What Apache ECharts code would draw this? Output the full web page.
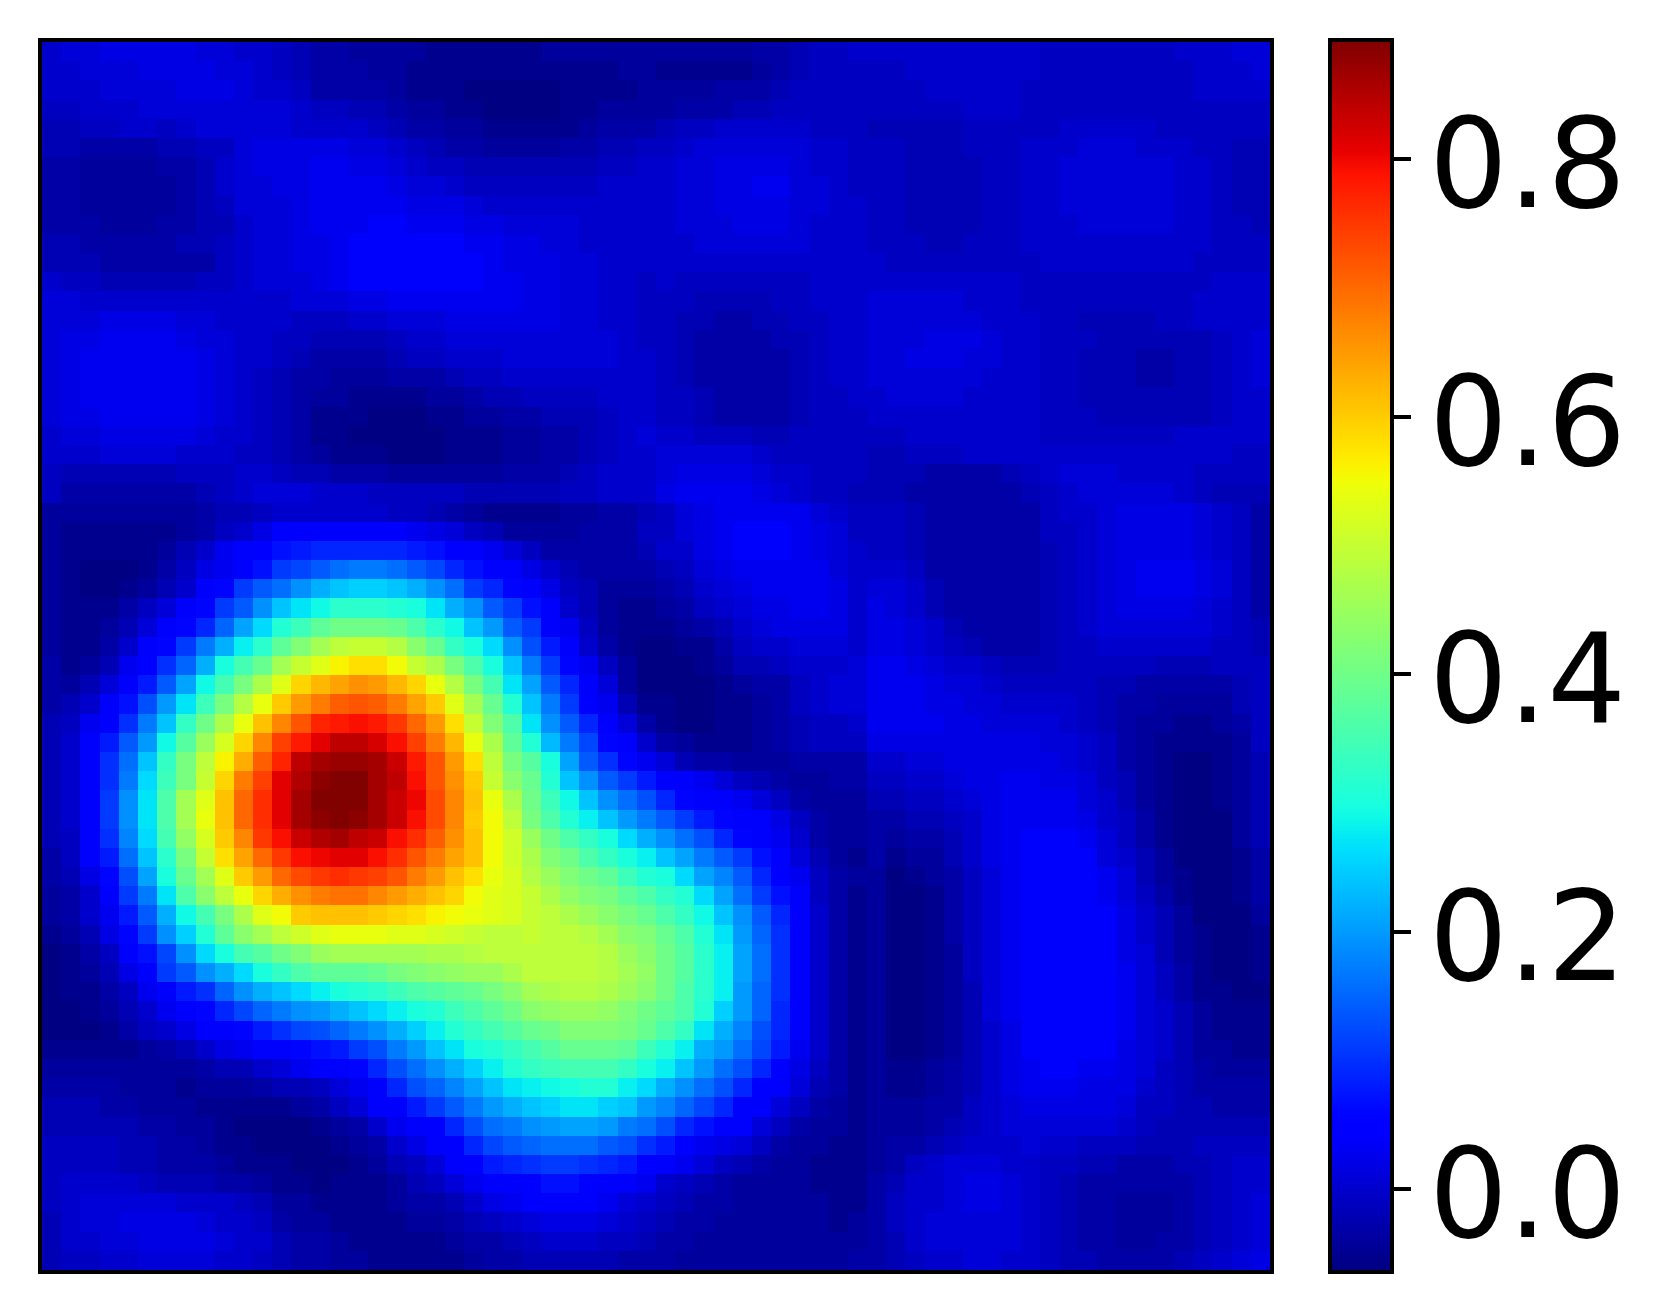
<!DOCTYPE html>
<html>
<head>
<meta charset="utf-8">
<style>html,body{margin:0;padding:0;background:#fff}#c{width:1665px;height:1312px}</style>
<script src="https://cdn.jsdelivr.net/npm/echarts@6/dist/echarts.min.js"></script>
</head>
<body>
<div id="c"></div>
<script>
// Field values in hundredths, row 0 = top of the picture, column 0 = left.
const fieldTop = [
[0,1,1,2,2,2,2,2,1,1,0,0,-1,-2,-3,-3,-4,-4,-4,-4,-5,-5,-5,-5,-5,-5,-4,-4,-4,-4,-4,-4, -4,-4,-4,-4,-4,-3,-3,-2,-1,-1,0,0,0,0,0,0,0,0,0,0,-1,-1,-1,-1,-1,-1,-1,0,0,0,1,1],
[0,0,1,1,1,2,2,2,2,1,1,0,-1,-2,-3,-3,-3,-4,-4,-5,-5,-5,-5,-5,-5,-5,-5,-5,-5,-5,-4,-4, -5,-5,-5,-5,-5,-4,-3,-2,-1,-1,-1,-1,-1,0,0,0,0,0,0,0,-1,-1,-1,-1,-1,-1,-1,-1,0,0,0,1],
[0,0,0,1,1,1,1,2,2,2,1,0,0,-1,-3,-3,-3,-3,-4,-5,-5,-5,-6,-6,-6,-6,-6,-5,-5,-5,-5,-4, -4,-4,-4,-3,-3,-3,-2,-1,-1,-1,-1,-1,-1,-1,0,0,0,0,0,-1,-1,-1,-1,-1,-1,-1,-1,-1,0,0,0,0],
[-1,-1,0,0,0,1,1,1,1,1,1,1,1,0,-1,-1,-2,-2,-3,-4,-4,-5,-5,-6,-6,-6,-6,-5,-5,-4,-4,-4, -4,-3,-3,-3,-2,-2,-1,-1,-1,-1,-1,-1,-1,-1,-1,-1,0,0,0,-1,-1,-1,-1,-1,-1,-1,-1,-1,-1,-1,-1,-1],
[-2,-2,-1,-1,0,0,-1,0,1,1,1,1,1,0,0,0,0,-1,-2,-3,-3,-4,-4,-5,-5,-5,-5,-5,-4,-3,-3,-3, -2,-1,-1,0,0,0,0,0,-1,-1,-1,-2,-2,-2,-2,-2,-1,-1,-1,-1,-1,0,0,0,0,0,-1,-1,-1,-1,-1,-1],
[-2,-2,-3,-3,-3,-3,-2,-2,-1,-1,1,2,2,2,2,2,1,1,0,-1,-2,-3,-3,-4,-4,-4,-4,-3,-3,-2,-2,-1, -1,0,1,1,1,1,1,1,0,0,-1,-1,-1,-2,-2,-2,-1,-1,-1,0,0,0,1,1,1,0,0,0,-1,-1,-2,-2],
[-3,-3,-4,-4,-4,-4,-3,-3,-2,0,1,2,2,2,3,3,2,2,1,0,-1,-1,-2,-2,-2,-2,-2,-2,-2,-1,-1,0, 0,1,1,2,2,2,2,1,0,0,-1,-1,-1,-2,-2,-2,-2,-1,-1,0,0,1,1,1,1,1,1,0,0,-1,-2,-2],
[-3,-3,-4,-4,-4,-4,-4,-3,-2,0,1,1,2,2,3,3,3,3,2,1,1,0,-1,-1,-1,-1,-1,-1,-1,0,0,0, 0,1,1,2,2,3,3,1,1,0,-1,-1,-1,-2,-2,-2,-2,-1,-1,0,0,1,1,1,1,1,1,0,0,-1,-2,-2],
[-3,-3,-4,-4,-4,-4,-4,-3,-2,-1,1,1,1,2,3,3,3,3,3,2,2,2,1,0,0,0,0,0,0,0,0,0, 0,1,1,2,2,2,2,1,1,0,0,-1,-1,-2,-2,-2,-2,-1,-1,0,0,1,1,1,1,1,1,0,0,-1,-2,-2],
[-3,-3,-3,-4,-4,-4,-3,-3,-2,-2,0,1,1,2,3,3,3,4,4,3,3,3,2,2,1,1,1,1,0,0,0,0, 0,1,1,1,2,2,2,1,0,0,0,-1,-1,-2,-2,-2,-2,-1,-1,0,0,0,1,1,1,1,1,0,0,-1,-1,-2],
[-2,-2,-3,-3,-3,-3,-3,-2,-2,-1,0,1,1,2,2,3,4,4,4,4,4,4,3,3,2,2,1,1,0,0,0,0, 0,0,1,1,1,1,1,1,0,0,0,-1,-1,-1,-2,-2,-1,-1,-1,0,0,0,0,0,0,0,0,0,0,-1,-1,-1],
[-2,-2,-2,-3,-3,-3,-3,-3,-3,-1,0,1,1,2,2,3,4,4,4,4,4,4,4,3,2,2,2,1,1,0,0,0, 0,0,0,0,0,0,0,0,0,0,0,0,-1,-1,-1,-1,-1,-1,-1,-1,0,0,0,0,0,0,0,0,-1,-1,-1,-1],
[0,-1,-1,-2,-2,-2,-2,-2,-1,-1,0,1,1,1,2,3,4,4,4,4,4,4,4,3,3,2,2,1,1,0,0,-1, 0,-1,-1,-1,-1,-1,-1,-1,0,0,0,0,0,0,0,0,0,0,0,-1,-1,-1,-1,-1,-1,-1,-1,-1,-1,0,0,0],
[1,1,0,0,0,0,0,0,0,0,0,0,0,1,1,1,2,2,3,3,3,3,3,3,3,2,2,1,1,0,0,-1, -1,-1,-2,-2,-2,-2,-1,-1,0,0,0,1,1,1,1,1,0,0,0,-1,-1,-1,-1,-1,-1,-1,-1,-1,0,0,0,0],
[1,1,1,2,2,2,2,1,1,0,0,0,0,-1,-1,-1,0,0,1,1,1,2,2,2,2,2,2,1,1,0,0,-1, -1,-2,-2,-3,-3,-2,-2,-1,-1,0,0,1,1,1,1,1,1,0,0,0,-1,-1,-2,-2,-2,-2,-1,-1,0,0,0,0],
[1,2,2,3,3,3,3,2,1,1,0,0,-1,-1,-2,-2,-2,-2,-1,0,0,1,1,1,1,1,1,1,1,1,0,-1, -1,-2,-3,-3,-3,-3,-2,-2,-1,0,0,1,1,1,2,2,2,1,0,0,-1,-1,-1,-2,-2,-2,-2,-2,-2,-1,0,1],
[1,2,3,3,3,3,3,3,2,1,0,0,-1,-2,-3,-3,-3,-3,-2,-1,-1,0,0,0,1,1,1,1,1,1,0,0, -1,-2,-3,-3,-3,-3,-3,-2,-1,0,0,1,1,2,2,2,1,1,0,0,-1,-1,-2,-2,-2,-3,-3,-2,-2,-1,0,1],
[1,2,3,3,3,3,3,3,2,1,0,-1,-2,-3,-3,-4,-4,-4,-3,-3,-3,-2,-1,-1,0,0,0,0,0,0,0,0, -1,-2,-3,-3,-3,-3,-3,-2,-1,0,0,1,1,1,1,1,1,0,0,0,-1,-1,-2,-2,-2,-3,-3,-2,-2,-1,0,1],
[1,2,3,3,3,3,3,3,2,1,0,-1,-2,-3,-4,-4,-5,-5,-5,-5,-4,-4,-3,-2,-2,-1,-1,-1,-1,0,0,0, -1,-1,-2,-3,-3,-3,-3,-2,-1,-1,0,0,1,1,1,1,0,0,0,0,-1,-1,-2,-2,-2,-2,-2,-2,-2,-1,0,0],
[1,2,2,3,3,3,3,3,2,1,0,-1,-2,-3,-5,-5,-5,-6,-6,-6,-5,-5,-4,-4,-3,-3,-2,-2,-2,-1,0,0, -1,-1,-2,-3,-3,-3,-3,-2,-1,-1,-1,0,0,0,0,0,0,0,0,0,-1,-1,-1,-2,-2,-2,-2,-2,-2,-1,0,0],
[0,1,1,2,2,2,2,2,1,0,0,-1,-2,-3,-5,-5,-6,-6,-6,-6,-6,-5,-5,-5,-4,-4,-3,-3,-2,-1,0,1, 0,0,-1,-1,-1,-2,-2,-1,-1,-1,-1,-1,-1,0,0,0,0,0,0,0,-1,-1,-1,-1,-1,-1,-1,0,0,0,0,0],
[0,0,0,1,1,1,1,0,0,0,-1,-1,-2,-3,-4,-5,-5,-5,-6,-6,-6,-5,-5,-5,-4,-4,-3,-3,-2,-1,0,0, 1,1,1,1,1,0,-1,-1,-1,-1,-1,-2,-2,-1,-1,-1,0,0,0,0,0,0,0,0,0,0,0,0,0,0,-1,-1],
[-1,-2,-2,-2,-2,-2,-2,-1,-1,-1,0,0,-1,-2,-2,-3,-3,-3,-4,-4,-4,-4,-4,-4,-3,-3,-3,-2,-1,0,0,0, 1,2,2,2,2,1,0,0,-1,-1,-1,-2,-2,-2,-3,-3,-3,-3,-2,-1,0,1,1,1,0,0,0,0,-1,-1,-1,-1],
[-1,-3,-3,-3,-3,-3,-3,-3,-2,-1,0,1,1,1,0,0,0,-1,-1,-1,-1,-1,-2,-2,-2,-2,-2,-1,-1,0,0,0, 2,3,3,3,3,2,1,0,-1,-1,-2,-2,-2,-3,-3,-3,-3,-3,-3,-2,-1,0,1,1,1,1,1,0,-1,-2,-2,-2]
];
const fieldMiddle = [
[-4, -4,-4,-4,-4,-4,-4,-4,-3,-2,-2,-1,0,0,0,0,0,0,-1,-1,-2,-3,-4,-5,-5, -5,-5,-4,-4,-3,-3,-2,-1,1,2,3,3,3,3,3,1,0,-1, -1,-1,-2,-3,-3,-3,-3,-3,-3,-1,0,0,1,2,2,2,2,1,0,-1,-3],
[-4, -5,-5,-5,-5,-5,-5,-4,-3,-1,0,2,4,4,4,4,4,4,4,3,2,1,-1,-2,-4, -4,-4,-4,-3,-3,-3,-1,-1,1,2,3,4,4,4,3,2,1,-1, -1,-1,-2,-3,-3,-3,-3,-3,-3,-1,-1,0,1,2,2,2,2,1,0,-1,-3],
[-4, -5,-5,-5,-5,-5,-4,-2,0,3,4,5,7,8,9,9,9,9,9,8,7,5,4,3,1, -1,-3,-3,-3,-3,-3,-2,0,0,2,3,4,4,4,3,2,1,0, -1,-1,-2,-3,-3,-3,-3,-3,-3,-2,-1,0,1,2,2,2,2,1,0,-1,-3],
[-4, -5,-6,-6,-6,-5,-3,-1,2,3,4,7,11,12,14,16,17,17,16,14,12,9,7,4,4, 2,0,-2,-3,-3,-3,-3,-2,-1,1,2,3,3,3,3,3,1,0, 0,0,-1,-3,-3,-3,-3,-3,-3,-2,-1,0,1,2,3,3,3,2,1,-1,-3],
[-4, -5,-6,-6,-5,-4,-2,0,4,6,11,14,16,19,22,24,25,25,24,22,19,16,11,9,6, 4,2,-1,-2,-4,-4,-4,-3,-2,0,1,2,3,3,3,3,2,0, 1,1,0,-2,-3,-3,-3,-3,-3,-2,-1,0,1,2,3,3,3,2,1,-1,-3],
[-4, -5,-5,-5,-3,-1,1,4,6,11,14,19,24,27,29,32,32,32,31,30,27,22,19,14,11, 7,4,0,-2,-4,-5,-5,-4,-3,-1,0,1,2,2,3,3,2,0, 2,1,0,-2,-3,-3,-3,-3,-3,-2,-1,0,1,2,2,2,2,1,0,-1,-3],
[-4, -5,-5,-4,-2,1,4,6,9,15,21,26,31,34,38,40,40,40,39,36,32,29,24,20,14, 11,4,3,-1,-4,-5,-5,-5,-4,-3,-2,0,1,2,2,2,2,0, 2,2,1,0,-2,-3,-3,-3,-3,-2,-1,0,1,1,1,1,1,1,0,-1,-2],
[-4, -5,-5,-3,0,4,6,11,17,22,28,32,38,42,46,49,50,50,48,43,39,33,30,26,19, 13,8,4,0,-3,-5,-6,-6,-5,-5,-3,-1,0,0,1,1,1,0, 2,2,1,0,-1,-2,-3,-3,-3,-2,-1,-1,0,0,0,0,0,0,-1,-1,-2],
[-3, -5,-4,-2,3,5,10,15,22,30,35,39,46,50,53,56,58,58,55,50,47,41,36,30,24, 17,11,6,3,-1,-4,-6,-6,-6,-5,-4,-2,-2,-1,0,0,0,1, 3,3,2,1,0,0,-1,-2,-2,-2,-1,-1,-1,-1,-1,-2,-2,-2,-1,-1,-1],
[-3, -4,-2,1,4,8,14,21,29,35,41,47,53,59,62,64,66,65,62,59,54,48,41,35,27, 21,14,9,4,1,-4,-6,-6,-6,-6,-5,-4,-3,-3,-1,0,1,1, 3,3,3,2,1,1,0,-1,-1,-1,-1,-1,-2,-2,-3,-3,-3,-3,-3,-2,-1],
[-3, -2,0,4,7,13,20,27,34,41,48,54,60,65,68,71,72,71,68,64,60,53,46,39,31, 24,17,11,5,3,-2,-5,-5,-6,-6,-5,-5,-4,-3,-1,0,1,1, 3,3,3,2,2,1,1,0,0,0,0,-1,-2,-3,-3,-4,-4,-4,-4,-2,-1],
[-2, -1,3,4,10,17,24,33,40,47,54,61,67,72,77,78,79,78,75,70,65,58,50,42,36, 27,19,14,9,4,1,-3,-5,-6,-6,-5,-5,-4,-3,-2,-1,-1,0, 3,3,3,3,2,2,1,1,1,1,0,-1,-2,-3,-4,-4,-5,-5,-4,-3,-1],
[-2, 0,4,8,14,20,29,37,45,52,59,67,74,78,81,84,84,82,79,74,68,62,54,47,38, 31,23,17,12,6,4,0,-3,-4,-5,-5,-5,-4,-3,-2,-1,-1,-1, 2,2,2,2,2,2,2,2,2,1,1,0,-1,-3,-4,-5,-5,-5,-5,-4,-1],
[-2, 0,4,10,16,24,33,41,49,56,63,71,77,84,86,87,87,86,83,78,72,65,58,49,41, 37,30,21,14,10,6,3,1,-2,-3,-3,-4,-4,-4,-3,-3,-3,-3, 0,0,1,1,2,2,2,2,2,2,1,0,-1,-3,-4,-5,-6,-6,-5,-4,-2],
[-2, 0,4,10,17,26,34,41,50,59,68,74,81,85,88,89,89,86,84,79,72,66,60,50,43, 39,31,24,19,14,11,8,4,4,3,1,-1,-2,-3,-4,-4,-3,-3, -1,-1,0,0,1,2,2,3,3,2,2,1,-1,-2,-4,-5,-6,-6,-5,-4,-2],
[-2, 0,4,11,19,27,36,46,53,61,70,76,81,86,89,89,89,86,83,80,73,67,61,54,47, 40,34,29,24,19,16,13,9,6,4,4,3,1,-1,-3,-4,-4,-4, -2,-2,-1,-1,0,1,2,3,3,3,3,1,0,-2,-4,-5,-6,-6,-5,-4,-2],
[-2, 0,4,11,19,27,36,46,54,61,70,76,81,86,88,89,88,86,83,79,73,67,60,55,49, 41,36,31,28,24,20,17,14,11,8,6,4,4,2,-1,-3,-4,-4, -3,-3,-2,-2,-1,0,2,3,3,3,3,2,0,-1,-3,-5,-6,-6,-6,-4,-2],
[-2, -1,4,10,18,26,35,44,52,60,67,75,79,83,85,86,84,83,79,76,71,66,61,55,51, 45,40,36,33,30,26,22,19,16,13,9,6,4,3,0,-3,-4,-4, -3,-4,-3,-3,-2,0,2,3,4,4,4,3,1,-1,-3,-5,-6,-6,-6,-4,-2],
[-3, -1,4,8,16,24,32,41,50,58,64,70,75,79,80,81,81,79,76,72,68,64,61,55,51, 47,42,40,36,33,30,28,24,21,17,14,11,7,4,1,-2,-4,-5, -3,-5,-4,-4,-2,0,2,3,4,4,4,4,1,0,-2,-4,-6,-6,-6,-5,-3],
[-3, -2,2,6,13,21,30,39,46,53,60,65,70,73,75,76,75,74,72,68,65,61,58,54,52, 48,45,42,40,38,34,31,30,26,21,18,14,9,5,3,-1,-3,-4, -4,-6,-5,-4,-3,-1,1,3,4,4,4,4,3,1,-2,-4,-5,-6,-6,-5,-3],
[-4, -3,0,4,11,17,27,36,43,49,54,59,63,66,68,69,69,67,65,63,61,59,55,53,52, 50,47,44,42,41,38,36,33,31,26,21,16,11,7,4,-1,-3,-5, -4,-6,-6,-5,-3,-1,1,3,4,4,4,4,3,1,-1,-3,-5,-6,-6,-5,-3],
[-4, -3,0,3,8,14,22,29,35,41,47,53,55,60,61,61,61,60,59,58,56,55,54,53,52, 50,49,47,45,43,41,39,36,33,29,24,19,14,9,4,0,-3,-5, -4,-6,-6,-5,-3,-1,1,3,4,4,4,4,4,2,0,-2,-4,-6,-6,-6,-4],
[-5, -4,-2,2,6,11,19,25,31,38,43,46,49,51,53,54,54,54,53,53,52,51,50,49,49, 50,49,49,48,46,43,42,39,36,31,27,20,15,10,4,0,-3,-5, -4,-6,-6,-5,-3,-1,1,3,4,4,4,4,4,2,0,-2,-4,-5,-6,-6,-5],
[-6, -5,-3,-1,4,7,12,19,26,30,35,37,40,42,45,46,46,46,46,46,47,47,48,49,49, 49,49,49,49,48,45,43,40,37,32,28,21,16,10,4,0,-3,-5, -4,-6,-6,-5,-4,-1,1,3,4,4,4,4,4,2,1,-2,-4,-5,-6,-6,-5]
];
const fieldBottom = [
[-6,-5,-4,-2,2,4,11,14,19,22,26,30,33,36,38,38,38,39,41,42,43,44,45,45,47, 49,49,49,49,48,46,44,40,37,32,28,21,16,10,4,0,-3,-5, -4,-6,-6,-5,-4,-1,1,3,4,4,4,4,4,3,1,-1,-3,-5,-6,-6,-5],
[-6,-5,-5,-3,-1,3,4,8,10,15,19,22,24,26,28,30,31,32,34,36,37,38,39,41,43, 46,47,48,48,47,45,43,40,36,32,28,20,15,10,4,0,-3,-5, -4,-6,-6,-5,-4,-2,1,3,4,4,4,4,4,3,1,-1,-3,-5,-5,-6,-6],
[-6,-6,-5,-4,-2,0,3,4,6,9,12,15,17,19,20,22,24,26,28,30,31,34,36,38,40, 43,44,45,45,44,42,40,38,36,31,25,20,15,9,4,0,-3,-5, -4,-6,-6,-5,-4,-2,1,3,4,4,4,4,4,3,1,0,-2,-4,-5,-5,-5],
[-6,-6,-6,-5,-3,-1,0,2,4,4,6,8,10,12,13,15,17,19,22,25,28,31,33,35,37, 39,40,42,42,42,41,39,36,33,27,22,18,13,9,4,0,-3,-5, -4,-6,-6,-5,-4,-2,0,2,4,4,4,4,4,3,1,0,-2,-4,-5,-5,-5],
[-5,-5,-5,-5,-5,-4,-3,-2,0,2,3,4,4,6,7,8,11,13,17,20,24,27,30,31,33, 35,37,39,39,39,38,34,31,28,22,20,16,12,8,3,0,-3,-5, -4,-6,-6,-5,-4,-2,0,2,4,4,4,4,4,2,1,0,-2,-4,-4,-5,-5],
[-4,-4,-4,-4,-4,-4,-4,-4,-3,-2,-2,0,1,3,4,4,6,9,13,16,19,22,25,28,31, 33,34,35,35,35,33,30,28,24,20,16,13,9,5,2,-1,-3,-5, -4,-5,-5,-4,-3,-2,0,2,3,4,4,3,3,2,1,-1,-2,-3,-4,-4,-4],
[-3,-3,-3,-3,-4,-4,-4,-5,-4,-4,-4,-3,-2,-2,-1,1,3,4,9,13,15,18,21,24,27, 28,29,30,31,31,28,26,22,19,16,13,9,5,4,1,-2,-3,-5, -4,-5,-5,-4,-3,-2,0,2,3,3,3,2,2,2,0,-1,-2,-3,-3,-3,-3],
[-2,-2,-2,-3,-3,-4,-4,-4,-5,-5,-5,-5,-5,-4,-3,-1,1,4,4,8,11,14,17,20,22, 24,25,27,27,25,24,20,18,15,12,9,4,4,1,-1,-3,-4,-5, -4,-4,-4,-3,-3,-1,0,1,2,2,2,2,2,1,-1,-1,-2,-2,-3,-3,-3],
[-2,-2,-2,-2,-2,-3,-3,-4,-4,-5,-6,-6,-6,-6,-5,-4,-3,0,3,4,5,9,13,16,17, 19,20,21,21,20,17,16,13,9,7,4,4,1,-1,-3,-4,-4,-5, -4,-4,-4,-3,-2,-1,0,1,1,1,1,1,1,0,-1,-2,-2,-2,-2,-2,-2],
[-1,-1,-1,-1,-2,-2,-3,-3,-4,-5,-5,-6,-6,-6,-6,-5,-4,-3,0,2,4,5,9,12,14, 15,16,16,16,14,13,10,8,5,3,2,1,-1,-3,-4,-4,-5,-5, -4,-3,-3,-2,-1,0,0,0,1,0,0,-1,-1,-1,-2,-2,-2,-1,-1,-1,-1],
[-1,-1,-1,-1,-2,-2,-3,-3,-3,-4,-5,-5,-5,-6,-6,-6,-5,-4,-2,-1,1,4,5,8,9, 10,11,11,10,9,8,5,4,3,1,-1,-2,-3,-4,-4,-5,-5,-5, -4,-3,-1,0,1,1,1,0,0,-1,-1,-2,-2,-3,-3,-3,-2,-2,-1,0,0],
[-1,0,0,0,0,-1,-2,-2,-2,-3,-3,-4,-5,-5,-6,-5,-5,-5,-4,-2,-1,1,3,4,4, 5,7,7,5,4,4,3,0,-1,-2,-3,-4,-4,-4,-4,-5,-5,-5, -3,-2,0,0,1,2,2,1,0,-1,-2,-3,-3,-3,-3,-3,-3,-2,-1,0,0],
[-1,0,1,1,1,1,1,0,0,0,-1,-2,-4,-4,-5,-5,-5,-5,-4,-3,-3,-2,0,2,3, 4,4,4,4,3,1,0,-1,-2,-3,-3,-4,-4,-4,-4,-4,-5,-5, -3,-1,0,0,1,2,2,1,0,-1,-2,-3,-3,-4,-4,-4,-3,-2,-1,0,1],
[-2,0,1,1,2,2,2,2,1,0,0,-1,-3,-4,-4,-5,-5,-5,-5,-4,-4,-3,-2,-1,0, 1,2,2,2,1,0,-1,-2,-3,-3,-4,-4,-4,-4,-4,-4,-5,-4, -3,-1,0,1,1,1,1,1,0,-1,-2,-3,-3,-4,-4,-4,-3,-2,-1,0,1],
[-2,0,0,1,1,2,2,2,2,1,0,0,-2,-3,-3,-4,-5,-5,-5,-5,-5,-4,-3,-3,-2, -1,0,0,0,-1,-1,-2,-3,-3,-4,-4,-4,-4,-4,-4,-4,-4,-4, -3,-2,0,1,1,1,1,1,0,-1,-2,-3,-3,-4,-4,-3,-3,-2,-1,0,1],
[-2,-1,-1,0,0,1,1,1,1,0,0,-1,-2,-3,-3,-4,-4,-5,-5,-5,-5,-5,-4,-3,-3, -2,-2,-2,-2,-2,-3,-3,-3,-4,-4,-4,-4,-4,-4,-4,-4,-4,-3, -3,-2,-1,0,0,1,1,0,0,-1,-2,-2,-3,-3,-3,-3,-2,-1,0,1,2]
];
const colorbarTicks = [0, 0.2, 0.4, 0.6, 0.8];
const scaleMin = -0.063, scaleMax = 0.891;

const rows = [...fieldTop, ...fieldMiddle, ...fieldBottom];
const cols = rows[0].map((_, i) => i);
const rowIdx = rows.map((_, i) => i);
const cells = [];
rows.forEach((row, r) => row.forEach((v, c) => cells.push([c, r, v / 100])));

// matplotlib "jet" colormap
function ramp(stops, t) {
  for (let i = 1; i < stops.length; i++) {
    if (t <= stops[i][0]) {
      const a = stops[i - 1], b = stops[i];
      return a[1] + (b[1] - a[1]) * (t - a[0]) / (b[0] - a[0]);
    }
  }
  return stops[stops.length - 1][1];
}
const R = [[0,0],[0.35,0],[0.66,1],[0.89,1],[1,0.5]];
const G = [[0,0],[0.125,0],[0.375,1],[0.64,1],[0.91,0],[1,0]];
const B = [[0,0.5],[0.11,1],[0.34,1],[0.65,0],[1,0]];
const jet = [];
for (let i = 0; i < 256; i++) {
  const t = i / 255;
  jet.push('rgb(' + [R, G, B].map(s => Math.round(ramp(s, t) * 255)).join(',') + ')');
}

// Each cell is snapped to whole pixels so neighbouring cells meet without seams.
function renderCell(params, api) {
  const p = api.coord([api.value(0), api.value(1)]);
  const s = api.size([1, 1]);
  const x0 = Math.round(p[0] - s[0] / 2), x1 = Math.round(p[0] + s[0] / 2);
  const y0 = Math.round(p[1] - s[1] / 2), y1 = Math.round(p[1] + s[1] / 2);
  return {type: 'rect', shape: {x: x0, y: y0, width: x1 - x0, height: y1 - y0}, style: {fill: api.visual('color')}};
}

const chart = echarts.init(document.getElementById('c'), null, {renderer: 'canvas'});
chart.setOption({
  animation: false,
  backgroundColor: '#fff',
  grid: [
    {left: 42, top: 42, width: 1228, height: 1228, show: false, containLabel: false},
    {left: 40, top: 40, width: 1232, height: 1232, show: true, z: 5, borderColor: '#000', borderWidth: 4, backgroundColor: 'transparent'},
    {left: 1330, top: 40, width: 62, height: 1232, show: true, z: 5, borderColor: '#000', borderWidth: 4, backgroundColor: 'transparent'}
  ],
  xAxis: [
    {type: 'category', gridIndex: 0, data: cols, show: false},
    {type: 'value', gridIndex: 1, min: 0, max: 1, show: false},
    {type: 'value', gridIndex: 2, min: 0, max: 1, show: false}
  ],
  yAxis: [
    {type: 'category', gridIndex: 0, data: rowIdx, inverse: true, show: false},
    {type: 'value', gridIndex: 1, min: 0, max: 1, show: false},
    {
      type: 'value', gridIndex: 2, position: 'right', z: 6,
      min: -0.0645, max: 0.8924,
      splitLine: {show: false},
      axisLine: {show: false, onZero: false},
      axisTick: {show: true, length: 19, customValues: colorbarTicks, lineStyle: {color: '#000', width: 4}},
      axisLabel: {
        show: true, margin: 37, customValues: colorbarTicks,
        fontFamily: 'DejaVu Sans', fontSize: 124, color: '#000', verticalAlign: 'top', lineHeight: 32,
        formatter: v => Number(v).toFixed(1)
      }
    }
  ],
  visualMap: {
    type: 'continuous', show: true, seriesIndex: 0, dimension: 2, min: scaleMin, max: scaleMax,
    left: 1330, top: 40, itemWidth: 62, itemHeight: 1232, padding: 0,
    calculable: false, realtime: false, hoverLink: false, text: null, showLabel: false,
    textStyle: {fontSize: 0}, align: 'left', inRange: {color: jet}
  },
  series: [{
    type: 'custom', xAxisIndex: 0, yAxisIndex: 0, data: cells, renderItem: renderCell,
    encode: {x: 0, y: 1}, progressive: 0, silent: true, clip: false
  }]
});
</script>
</body>
</html>
